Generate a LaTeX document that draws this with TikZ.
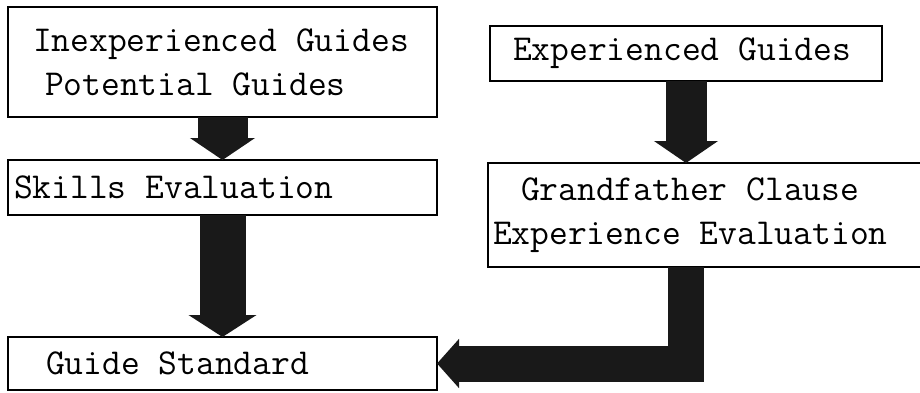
\documentclass[tikz,border=0pt]{standalone}
\usepackage{fontspec}
\usetikzlibrary{arrows.meta, positioning}

\begin{document}
\begin{tikzpicture}[
    x=1pt, y=-1pt,
    stepbox/.style={draw=black, line width=1.5pt, anchor=north west, align=flush left,
        inner ysep=0pt, outer sep=0pt,
        font=\ttfamily\fontsize{36.5}{44}\selectfont},
    flow/.style 2 args={draw=black!90, line width=#1, -{Triangle[width=#2, length=22pt]}}
]
\useasboundingbox (0,0) rectangle (920,392);

% Boxes
\node[stepbox, inner xsep=4pt, text width=421pt, minimum height=110pt] (inexp) at (8,7)
    {\hspace*{21pt}Inexperienced Guides\\\hspace*{33pt}Potential Guides};
\node[stepbox, inner xsep=6pt, text width=417pt, minimum height=55pt] (skills) at (8,160)
    {Skills Evaluation};
\node[stepbox, inner xsep=38pt, text width=353pt, minimum height=53pt] (guide) at (8,337)
    {Guide Standard};
\node[stepbox, inner xsep=4pt, text width=384pt, minimum height=55pt] (exper) at (490,26)
    {\hspace*{19pt}Experienced Guides};
\node[stepbox, inner xsep=5pt, text width=427pt, minimum height=104pt] (grand) at (488,163)
    {\hspace*{28pt}Grandfather Clause\\Experience Evaluation};

% Arrows
\draw[flow={50pt}{64pt}] (inexp.south) -- (skills.north);
\draw[flow={46pt}{67pt}] (skills.south) -- (guide.north);
\draw[flow={41pt}{63pt}] (exper.south) -- (exper.south |- grand.north);
\draw[flow={36pt}{48pt}] (exper.south |- grand.south) |- (guide.east);

\end{tikzpicture}
\end{document}
